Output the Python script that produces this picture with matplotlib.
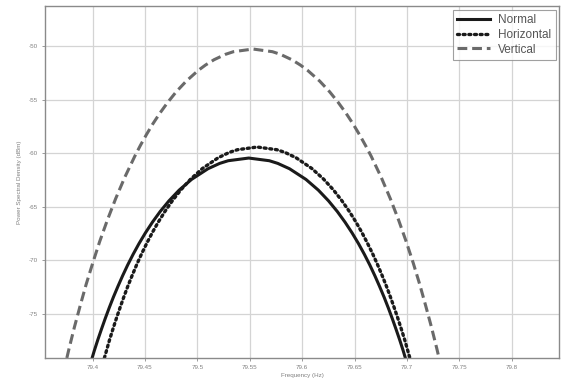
import matplotlib
matplotlib.use("Agg")
import matplotlib.pyplot as plt

plt.rcParams['axes.unicode_minus'] = False
plt.rcParams['font.family'] = ['Liberation Sans', 'DejaVu Sans']

# Frequency / PSD values
normal_f = [79.3996, 79.4017, 79.4050, 79.4085, 79.4121, 79.4159, 79.4199, 79.4242,
            79.4287, 79.4335, 79.4387, 79.4443, 79.4504, 79.4571, 79.4645, 79.4729,
            79.4826, 79.4944, 79.5101, 79.5213, 79.5294, 79.5490,
            79.5686, 79.5767, 79.5879, 79.6036, 79.6154, 79.6251, 79.6335, 79.6409,
            79.6476, 79.6537, 79.6593, 79.6645, 79.6693, 79.6738, 79.6781, 79.6821,
            79.6859, 79.6895, 79.6930, 79.6963, 79.6984]
normal_p = [-79.16, -78.47, -77.47, -76.47, -75.47, -74.47, -73.47, -72.47,
            -71.47, -70.47, -69.47, -68.47, -67.47, -66.47, -65.47, -64.47,
            -63.47, -62.47, -61.47, -60.97, -60.72, -60.47,
            -60.72, -60.97, -61.47, -62.47, -63.47, -64.47, -65.47, -66.47,
            -67.47, -68.47, -69.47, -70.47, -71.47, -72.47, -73.47, -74.47,
            -75.47, -76.47, -77.47, -78.47, -79.16]

horiz_f = [79.4113, 79.4134, 79.4163, 79.4195, 79.4228, 79.4263, 79.4299, 79.4337,
           79.4378, 79.4421, 79.4467, 79.4517, 79.4570, 79.4628, 79.4692, 79.4763,
           79.4843, 79.4936, 79.5049, 79.5199, 79.5305, 79.5383, 79.5570,
           79.5757, 79.5835, 79.5941, 79.6091, 79.6204, 79.6297, 79.6377, 79.6448,
           79.6512, 79.6570, 79.6623, 79.6673, 79.6719, 79.6762, 79.6803, 79.6841,
           79.6877, 79.6912, 79.6945, 79.6977, 79.7006, 79.7027]
horiz_p = [-79.16, -78.44, -77.44, -76.44, -75.44, -74.44, -73.44, -72.44,
           -71.44, -70.44, -69.44, -68.44, -67.44, -66.44, -65.44, -64.44,
           -63.44, -62.44, -61.44, -60.44, -59.94, -59.69, -59.44,
           -59.69, -59.94, -60.44, -61.44, -62.44, -63.44, -64.44, -65.44,
           -66.44, -67.44, -68.44, -69.44, -70.44, -71.44, -72.44, -73.44,
           -74.44, -75.44, -76.44, -77.44, -78.44, -79.16]

vert_f = [79.3755, 79.3776, 79.3827, 79.3882, 79.3939, 79.4002, 79.4068, 79.4141,
          79.4220, 79.4307, 79.4404, 79.4457, 79.4514, 79.4575, 79.4642, 79.4716,
          79.4798, 79.4894, 79.5008, 79.5077, 79.5159, 79.5267, 79.5344, 79.5530,
          79.5716, 79.5793, 79.5901, 79.5983, 79.6052, 79.6167, 79.6262, 79.6344,
          79.6418, 79.6485, 79.6546, 79.6603, 79.6657, 79.6754, 79.6841, 79.6920,
          79.6992, 79.7059, 79.7121, 79.7178, 79.7233, 79.7284, 79.7305]
vert_p = [-79.16, -78.28, -76.28, -74.28, -72.28, -70.28, -68.28, -66.28,
          -64.28, -62.28, -60.28, -59.28, -58.28, -57.28, -56.28, -55.28,
          -54.28, -53.28, -52.28, -51.78, -51.28, -50.78, -50.53, -50.28,
          -50.53, -50.78, -51.28, -51.78, -52.28, -53.28, -54.28, -55.28,
          -56.28, -57.28, -58.28, -59.28, -60.28, -62.28, -64.28, -66.28,
          -68.28, -70.28, -72.28, -74.28, -76.28, -78.28, -79.16]

xticks = [79.4, 79.45, 79.5, 79.55, 79.6, 79.65, 79.7, 79.75, 79.8]
xticklabels = ['79.4', '79.45', '79.5', '79.55', '79.6', '79.65', '79.7', '79.75', '79.8']
yticks = [-75, -70, -65, -60, -55, -50]

fig = plt.figure(figsize=(5.63, 3.88), dpi=100)
ax = fig.add_axes([0.080, 0.0773, 0.913, 0.9072])

ax.plot(normal_f, normal_p, color='#1a1a1a', lw=2.2, ls='-', label='Normal')
ax.plot(horiz_f, horiz_p, color='#1a1a1a', lw=2.4, ls=(0, (0.6, 1.1)), label='Horizontal',
        dash_capstyle='round')
ax.plot(vert_f, vert_p, color='#6a6a6a', lw=2.2, ls=(0, (3.2, 1.6)), label='Vertical')

ax.set_xlim(79.3547, 79.845)
ax.set_ylim(-79.16, -46.26)
ax.set_xticks(xticks)
ax.set_xticklabels(xticklabels)
ax.set_yticks(yticks)

ax.grid(True, color='#d4d4d4', lw=0.9)
ax.set_axisbelow(True)
for s in ax.spines.values():
    s.set_color('#8a8a8a')
    s.set_linewidth(1.0)
ax.tick_params(axis='both', labelsize=4.5, colors='#8a8a8a', labelcolor='#808080',
               length=2, width=0.6, pad=3)

ax.set_xlabel('Frequency (Hz)', fontsize=4.5, color='#808080', labelpad=2)
ax.set_ylabel('Power Spectral Density (dBm)', fontsize=4.5, color='#808080', labelpad=5)

leg = ax.legend(loc='upper right', fontsize=8.5, frameon=True, fancybox=False,
                handlelength=2.8, handletextpad=0.7, borderpad=0.35, labelspacing=0.25,
                borderaxespad=0.3)
leg.get_frame().set_edgecolor('#888888')
leg.get_frame().set_linewidth(0.8)
for t in leg.get_texts():
    t.set_color('#555555')

fig.savefig('out.png', dpi=100, facecolor='white')
